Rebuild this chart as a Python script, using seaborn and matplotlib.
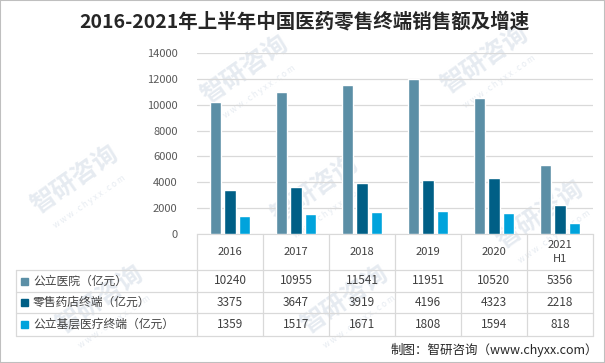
import matplotlib
matplotlib.use('Agg')
import matplotlib.pyplot as plt
import pandas as pd
import seaborn as sns
from matplotlib.lines import Line2D
from matplotlib.patches import Rectangle

years = ['2016', '2017', '2018', '2019', '2020', '2021\nH1']
series = ['公立医院（亿元）', '零售药店终端（亿元）', '公立基层医疗终端（亿元）']
hospital = [10240, 10955, 11541, 11951, 10520, 5356]
pharmacy = [3375, 3647, 3919, 4196, 4323, 2218]
primary = [1359, 1517, 1671, 1808, 1594, 818]
colors = ['#5B8FA6', '#005F86', '#00A3DC']

sns.set_style('white')
plt.rcParams['font.family'] = ['Noto Sans CJK SC', 'DejaVu Sans']

df = pd.DataFrame({'year': years * 3,
                   'series': [s for s in series for _ in years],
                   'value': hospital + pharmacy + primary})

fig = plt.figure(figsize=(6.05, 3.63), dpi=100)
W, H = 605, 363
def fx(px): return px / W
def fy(py): return 1 - py / H

# border
fig.add_artist(Rectangle((0, 0), 1, 1, transform=fig.transFigure, fill=False,
                         edgecolor='#BFBFBF', lw=1.5))

# faint watermarks (behind everything)
for (x, y) in [(245, 70), (485, 60), (75, 180), (315, 190), (540, 215), (100, 300), (345, 300)]:
    fig.text(fx(x), fy(y), '智研咨询', fontsize=18, color='#E6EBF1', rotation=35,
             ha='center', va='center', fontweight='bold', zorder=-1)
    fig.text(fx(x + 14), fy(y + 22), 'w w w . c h y x x . c o m', fontsize=6,
             color='#E6EBF1', rotation=35, ha='center', va='center', zorder=-1)

left, right, col_w = 197, 593, 66
ax = fig.add_axes([fx(left), fy(234), fx(right) - fx(left), fy(53) - fy(234)])
ax.patch.set_alpha(0)
sns.barplot(data=df, x='year', y='value', hue='series', palette=colors,
            width=0.66, gap=0.2, saturation=1, ax=ax, legend=False, zorder=3)
ax.set_xlim(-0.5, 5.5)
ax.set_ylim(0, 14000)
ax.set_yticks(range(0, 14001, 2000))
ax.yaxis.grid(True, color='#D9D9D9', lw=0.9, zorder=0)
ax.set_axisbelow(True)
for s in ['top', 'right', 'left']:
    ax.spines[s].set_visible(False)
ax.spines['bottom'].set_color('#D9D9D9')
ax.set_xticks([])
ax.set_xlabel('')
ax.set_ylabel('')
ax.tick_params(axis='y', length=0, labelsize=8, labelcolor='#595959', pad=14)

# title
fig.text(fx(304), fy(22), '2016-2021年上半年中国医药零售终端销售额及增速',
         fontsize=14, fontweight='bold', color='#262626', ha='center', va='center')

# data table under the bars
lc = '#D9D9D9'
rows_y = [234, 270, 292, 313, 336]
for i in range(7):
    x = left + col_w * i
    fig.add_artist(Line2D([fx(x), fx(x)], [fy(234), fy(336)], color=lc, lw=0.9))
fig.add_artist(Line2D([fx(16), fx(16)], [fy(270), fy(336)], color=lc, lw=0.9))
for y in rows_y[1:]:
    fig.add_artist(Line2D([fx(16), fx(right)], [fy(y), fy(y)], color=lc, lw=0.9))

for i, yr in enumerate(years):
    cx = left + col_w * (i + 0.5)
    fig.text(fx(cx), fy(252), yr, fontsize=8, color='#404040', ha='center', va='center',
             linespacing=1.6)

data_rows = [hospital, pharmacy, primary]
for r, (name, vals, c) in enumerate(zip(series, data_rows, colors)):
    cy = (rows_y[r + 1] + rows_y[r + 2]) / 2
    fig.add_artist(Rectangle((fx(21), fy(cy + 3.5)), fx(7), 7 / H, color=c,
                             transform=fig.transFigure))
    fig.text(fx(33), fy(cy), name, fontsize=8.5, color='#404040', ha='left', va='center')
    for i, v in enumerate(vals):
        cx = left + col_w * (i + 0.5)
        fig.text(fx(cx), fy(cy), str(v), fontsize=8.5, color='#404040',
                 ha='center', va='center')

fig.text(fx(598), fy(350), '制图：智研咨询（www.chyxx.com）', fontsize=9,
         color='#262626', ha='right', va='center')

fig.savefig('out.png', dpi=100)
